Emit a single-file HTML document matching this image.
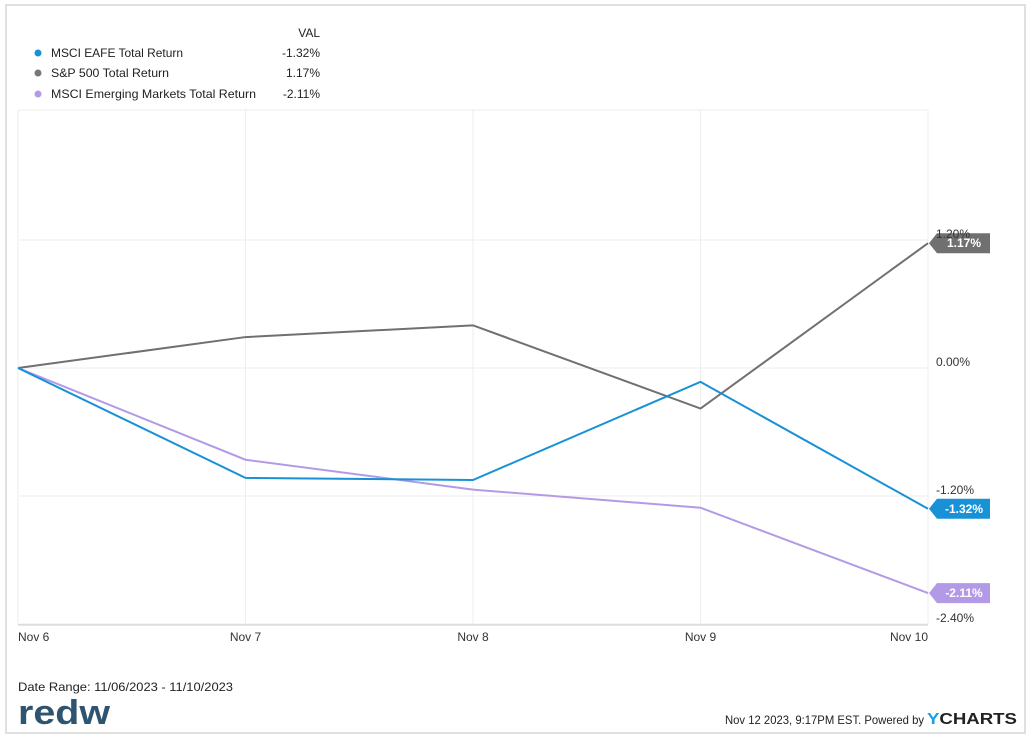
<!DOCTYPE html>
<html><head><meta charset="utf-8"><style>
body{margin:0;background:#fff;font-family:"Liberation Sans",sans-serif;}
#wrap{position:relative;width:1031px;height:745px;overflow:hidden;}
</style></head><body>
<div id="wrap">
<svg id="chart" width="1031" height="745">
<rect x="6" y="5" width="1019" height="728" fill="none" stroke="#e0e0e0" stroke-width="2"/>
<g id="grid"></g>
<g id="series"></g>
<g id="labels"></g>
<g font-size="12" fill="#222">
<text x="320" y="37" text-anchor="end">VAL</text>
<circle cx="38" cy="53" r="3.5" fill="#1891d6"/>
<text x="51" y="57" textLength="132" lengthAdjust="spacingAndGlyphs">MSCI EAFE Total Return</text>
<text x="320" y="57" text-anchor="end">-1.32%</text>
<circle cx="38" cy="73" r="3.5" fill="#777"/>
<text x="51" y="77" textLength="118" lengthAdjust="spacingAndGlyphs">S&amp;P 500 Total Return</text>
<text x="320" y="77" text-anchor="end">1.17%</text>
<circle cx="38" cy="94" r="3.5" fill="#b39ae6"/>
<text x="51" y="98" textLength="205" lengthAdjust="spacingAndGlyphs">MSCI Emerging Markets Total Return</text>
<text x="320" y="98" text-anchor="end">-2.11%</text>
</g>
<text x="18" y="691" font-size="12" fill="#222" textLength="215" lengthAdjust="spacingAndGlyphs">Date Range: 11/06/2023 - 11/10/2023</text>
<text x="18" y="724" font-size="34" font-weight="bold" fill="#2f5470" textLength="92" lengthAdjust="spacingAndGlyphs">redw</text>
<text x="725" y="724" font-size="12" fill="#222" textLength="199" lengthAdjust="spacingAndGlyphs">Nov 12 2023, 9:17PM EST. Powered by</text>
<text x="927" y="724" font-size="16" font-weight="bold" fill="#222" textLength="90" lengthAdjust="spacingAndGlyphs"><tspan fill="#1aa3e0">Y</tspan>CHARTS</text>
</svg>
</div>
<script>
const categories=["Nov 6","Nov 7","Nov 8","Nov 9","Nov 10"];
const eafe=[0,-1.03,-1.05,-0.13,-1.32];
const sp500=[0,0.29,0.40,-0.38,1.17];
const em=[0,-0.86,-1.14,-1.31,-2.11];
const yTicks=[1.2,0,-1.2,-2.4];
const yTickLabels=["1.20%","0.00%","-1.20%","-2.40%"];
const NS="http://www.w3.org/2000/svg";
const x0=18,x1=928,yTop=110,yBot=625;
function xs(i){return x0+(x1-x0)*i/(categories.length-1);}
function ys(v){return 368-v*(128/1.2);}
function mk(tag,attrs,parent){const e=document.createElementNS(NS,tag);for(const k in attrs)e.setAttribute(k,attrs[k]);parent.appendChild(e);return e;}
const grid=document.getElementById('grid'),ser=document.getElementById('series'),lab=document.getElementById('labels');
mk('line',{x1:x0,y1:yTop,x2:x1,y2:yTop,stroke:'#eee'},grid);
categories.forEach((c,i)=>{
 const l=mk('line',{x1:xs(i),y1:yTop,x2:xs(i),y2:yBot,stroke:'#eee'},grid);
 
 
 const t=mk('text',{x:i==0?x0:xs(i),y:641,'font-size':12,fill:'#333','text-anchor':i==0?'start':(i==categories.length-1?'end':'middle')},lab);
 t.textContent=c;
 
 
});
yTicks.forEach((v,i)=>{
 const l=mk('line',{x1:x0,y1:ys(v),x2:x1,y2:ys(v),stroke:'#eee'},grid);
 
 
 const t=mk('text',{x:936,y:ys(v)-2,'font-size':12,fill:'#333'},lab);
 t.textContent=yTickLabels[i];
 
 
});
mk('line',{x1:x0,y1:yBot,x2:x1,y2:yBot,stroke:'#ccc'},grid);
function drawSeries(vals,color,name){
 const p=mk('polyline',{points:vals.map((v,i)=>xs(i)+','+ys(v)).join(' '),fill:'none',stroke:color,'stroke-width':2},ser);
 
 
 const last=vals[vals.length-1],y=ys(last);
 const g=mk('g',{},ser);
 
 
 mk('path',{d:`M${x1+1},${y} L${x1+9},${y-10} L${x1+62},${y-10} L${x1+62},${y+10} L${x1+9},${y+10} Z`,fill:color},g);
 const t=mk('text',{x:x1+36,y:y+4,'font-size':12,'font-weight':'bold',fill:'#fff','text-anchor':'middle'},g);
 t.textContent=last.toFixed(2)+'%';
}
drawSeries(sp500,'#707070','sp500');
drawSeries(em,'#b39ae6','em');
drawSeries(eafe,'#1891d6','eafe');
</script>
</body></html>
